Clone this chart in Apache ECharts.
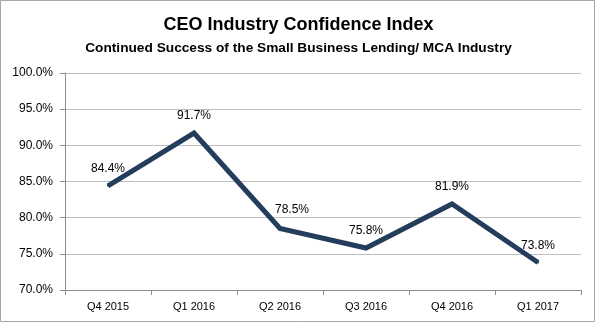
<!DOCTYPE html>
<html>
<head>
<meta charset="utf-8">
<script src="https://cdn.jsdelivr.net/npm/echarts@6/dist/echarts.min.js"></script>
<style>
  html, body { margin: 0; padding: 0; background: #fff; }
  #chart { width: 597px; height: 324px; }
</style>
</head>
<body>
<div id="chart"></div>
<script>
// Quarterly confidence index values (percent)
const quarters = ['Q4 2015', 'Q1 2016', 'Q2 2016', 'Q3 2016', 'Q4 2016', 'Q1 2017'];
const confidence = [84.4, 91.7, 78.5, 75.8, 81.9, 73.8];
const yTicks = [70, 75, 80, 85, 90, 95, 100];

const titleText = 'CEO Industry Confidence Index';
const subtitleText = 'Continued Success of the Small Business Lending/ MCA Industry';

const bodyFont = '"Liberation Sans", Arial, sans-serif';
const lineColor = '#243d5c';

// The Q2 2016 label sits to the right so it clears the falling segment
const seriesData = confidence.map((v, i) =>
  i === 2 ? { value: v, label: { offset: [12, -2] } } : v
);

const chart = echarts.init(document.getElementById('chart'), null, { renderer: 'canvas' });

chart.setOption({
  animation: false,
  backgroundColor: '#ffffff',
  title: {
    text: titleText,
    subtext: subtitleText,
    left: 'center',
    top: 11,
    itemGap: 7,
    textStyle: { fontFamily: bodyFont, fontWeight: 'bold', fontSize: 18, color: '#000' },
    subtextStyle: { fontFamily: bodyFont, fontWeight: 'bold', fontSize: 13.7, color: '#000' }
  },
  graphic: [{
    type: 'rect',
    shape: { x: 0.5, y: 0.5, width: 594, height: 321 },
    style: { fill: 'none', stroke: '#a6a6a6', lineWidth: 1 },
    silent: true
  }],
  grid: { left: 65, right: 16, top: 73, bottom: 34, containLabel: false },
  xAxis: {
    type: 'category',
    data: quarters,
    boundaryGap: true,
    axisLine: { lineStyle: { color: '#8c8c8c', width: 1 } },
    axisTick: { show: true, length: 5, alignWithLabel: false, lineStyle: { color: '#8c8c8c' } },
    axisLabel: { fontFamily: bodyFont, fontSize: 11, color: '#000', margin: 11 }
  },
  yAxis: {
    type: 'value',
    min: yTicks[0],
    max: yTicks[yTicks.length - 1],
    interval: 5,
    axisLine: { show: true, lineStyle: { color: '#8c8c8c', width: 1 } },
    axisTick: { show: true, length: 5, lineStyle: { color: '#8c8c8c' } },
    axisLabel: {
      fontFamily: bodyFont, fontSize: 12, color: '#000', margin: 12,
      formatter: v => v.toFixed(1) + '%'
    },
    splitLine: { show: true, lineStyle: { color: '#bfbfbf', width: 1 } }
  },
  series: [{
    type: 'line',
    data: seriesData,
    symbol: 'circle',
    symbolSize: 2,
    showSymbol: true,
    itemStyle: { color: lineColor },
    lineStyle: { color: lineColor, width: 5, cap: 'butt', join: 'miter' },
    label: {
      show: true,
      position: 'top',
      distance: 10,
      fontFamily: bodyFont,
      fontSize: 12,
      color: '#000',
      formatter: p => p.value.toFixed(1) + '%'
    }
  }]
});
</script>
</body>
</html>
